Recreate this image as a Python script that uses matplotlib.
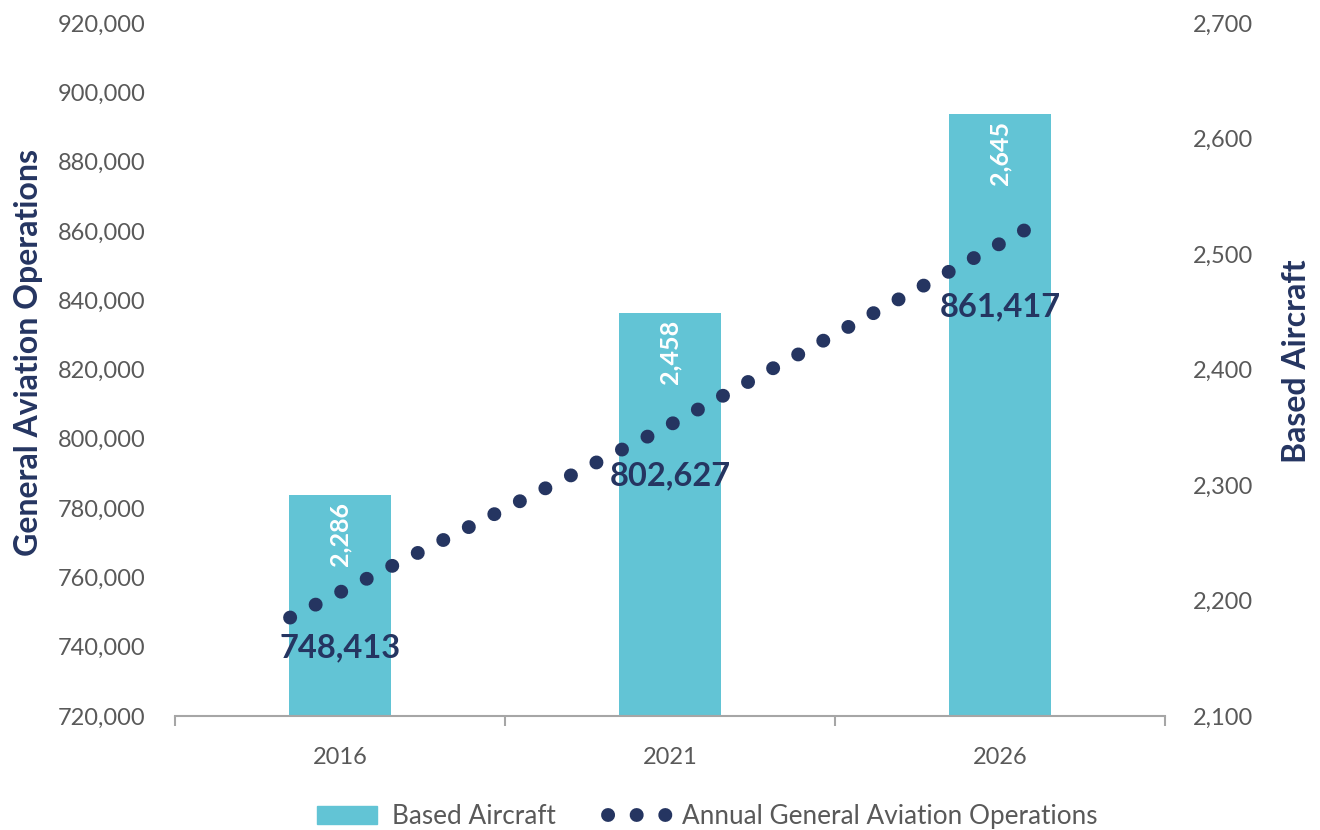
import matplotlib
matplotlib.use("Agg")
import matplotlib.pyplot as plt
from matplotlib.ticker import FuncFormatter, MultipleLocator
from matplotlib.transforms import blended_transform_factory
from matplotlib.patches import Patch
from matplotlib.lines import Line2D

# data
years = [2016, 2021, 2026]
based_aircraft = [2286, 2458, 2645]
operations = [748413, 802627, 861417]

BAR = "#62C4D5"
NAVY = "#253561"
GREY = "#595959"
AXIS = "#A6A6A6"

plt.rcParams['font.family'] = ['Lato', 'DejaVu Sans']

TICK_FS = 17
LABEL_FS = 23
DOTS = (0, (0.01, 2.05))
DOT_LW = 10

fig = plt.figure(figsize=(13.2, 8.3), dpi=100)
rect = [0.1326, 0.1373, 0.75, 0.835]

# bars (category axis, bar scale kept hidden)
ax = fig.add_axes(rect)
xs = list(range(len(years)))
ax.bar(xs, based_aircraft, width=0.31, color=BAR)
ax.set_xlim(-0.5, 2.5)
ax.set_ylim(2078, 2731)
ax.set_yticks([])
for s in ['top', 'left', 'right']:
    ax.spines[s].set_visible(False)
ax.spines['bottom'].set_color(AXIS)
ax.spines['bottom'].set_linewidth(1.5)
ax.set_xticks(xs, [str(y) for y in years])
ax.set_xticks([-0.5, 0.5, 1.5, 2.5], minor=True)
ax.tick_params(axis='x', which='major', length=0, pad=22,
               labelsize=TICK_FS, labelcolor=GREY)
ax.tick_params(axis='x', which='minor', length=7, width=1.5, color=AXIS)

for x, v in zip(xs, based_aircraft):
    ax.annotate(f"{v:,}", (x, v), xytext=(0, -5), textcoords='offset points',
                ha='center', va='top', rotation=90, color='white',
                fontsize=18, fontweight='bold')

# right axis labels
ax_r = ax.twinx()
ax_r.set_ylim(2100, 2700)
ax_r.yaxis.set_major_locator(MultipleLocator(100))
ax_r.yaxis.set_major_formatter(FuncFormatter(lambda v, p: f"{v:,.0f}"))
ax_r.tick_params(axis='y', length=0, pad=20, labelsize=TICK_FS, labelcolor=GREY)
for s in ax_r.spines.values():
    s.set_visible(False)
ax_r.set_ylabel("Based Aircraft", fontsize=LABEL_FS, fontweight='bold',
                color=NAVY, labelpad=21)
ax_r.yaxis.label.set_y(0.512)

# operations line on its own axes
ax_o = fig.add_axes(rect)
ax_o.patch.set_visible(False)
ax_o.set_xlim(2014.45, 2027.79)
ax_o.set_ylim(720000, 920000)
ax_o.xaxis.set_visible(False)
ax_o.yaxis.set_major_locator(MultipleLocator(20000))
ax_o.yaxis.set_major_formatter(FuncFormatter(lambda v, p: f"{v:,.0f}"))
ax_o.tick_params(axis='y', length=0, pad=21, labelsize=TICK_FS, labelcolor=GREY)
for s in ax_o.spines.values():
    s.set_visible(False)
ax_o.set_ylabel("General Aviation Operations", fontsize=LABEL_FS,
                fontweight='bold', color=NAVY, labelpad=11)
ax_o.yaxis.label.set_y(0.525)

ax_o.plot(years, operations, color=NAVY, lw=DOT_LW, linestyle=DOTS,
          dash_capstyle='round')

trans = blended_transform_factory(ax.transData, ax_o.transData)
label_dy = [-22, -33, -58]
for x, v, dy in zip(xs, operations, label_dy):
    ax_o.annotate(f"{v:,}", (x, v), xycoords=trans, xytext=(0, dy),
                  textcoords='offset points', ha='center', va='center',
                  fontsize=23.5, fontweight='bold', color=NAVY)

handles = [
    Patch(color=BAR, label="Based Aircraft"),
    Line2D([], [], color=NAVY, lw=DOT_LW, linestyle=DOTS, dash_capstyle='round',
           label="Annual General Aviation Operations"),
]
fig.legend(handles=handles, loc='center', bbox_to_anchor=(0.536, 0.016), ncol=2,
           frameon=False, fontsize=18.8, labelcolor=GREY, handlelength=2.3,
           handleheight=0.65, columnspacing=2.0, handletextpad=0.55)

fig.savefig("out.png", dpi=100)
